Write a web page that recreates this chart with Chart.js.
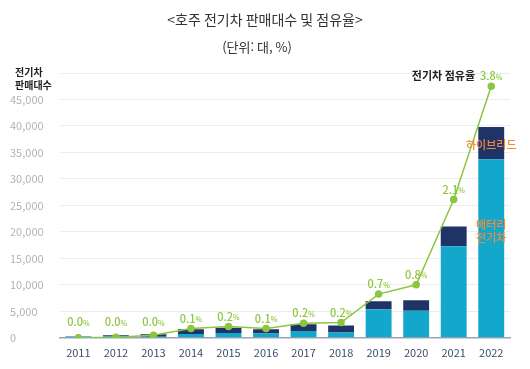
<!DOCTYPE html>
<html lang="ko">
<head>
<meta charset="utf-8">
<script src="https://cdn.jsdelivr.net/npm/chart.js@4.4.1/dist/chart.umd.min.js"></script>
<style>
  html, body { margin: 0; padding: 0; background: #fff; }
  #wrap { width: 530px; height: 369px; position: relative; }
</style>
</head>
<body>
<div id="wrap"><canvas id="chart" width="530" height="369"></canvas></div>
<script>
// --- DATA ---
const years = ['2011', '2012', '2013', '2014', '2015', '2016', '2017', '2018', '2019', '2020', '2021', '2022'];
const bevSales = [250, 250, 200, 700, 900, 800, 1300, 1000, 5400, 5100, 17300, 33700];
const phevSales = [50, 250, 450, 900, 1000, 800, 1250, 1300, 1500, 2000, 3700, 6100];
const evShare = [0.0, 0.01, 0.04, 0.14, 0.17, 0.14, 0.22, 0.23, 0.66, 0.8, 2.09, 3.8];
const yTicks = [0, 5000, 10000, 15000, 20000, 25000, 30000, 35000, 40000, 45000, 50000];

const FONT = "'Noto Sans CJK KR', 'Noto Sans', sans-serif";
const GREEN = '#8cc63f';
const ORANGE = '#f28b3a';

// titles, axis caption and in-chart labels
const labelPlugin = {
    id: 'labels',
    afterDatasetsDraw(chart) {
        const { ctx, scales } = chart;
        const x = scales.x, y = scales.y;
        ctx.save();
        ctx.textBaseline = 'middle';

        // title
        ctx.textAlign = 'center';
        ctx.fillStyle = '#333';
        ctx.font = `14px ${FONT}`;
        ctx.fillText('<호주 전기차 판매대수 및 점유율>', 265, 20);
        ctx.font = `13px ${FONT}`;
        ctx.fillText('(단위: 대, %)', 257, 47);

        // y axis caption
        ctx.textAlign = 'left';
        ctx.fillStyle = '#222';
        ctx.font = `bold 10px ${FONT}`;
        ctx.fillText('전기차', 15, 72);
        ctx.fillText('판매대수', 15, 85);

        // share labels above points
        const meta = chart.getDatasetMeta(2);
        meta.data.forEach((p, i) => {
            const num = evShare[i].toFixed(1);
            const ly = Math.min(p.y - 10, 322);
            ctx.font = `500 11px ${FONT}`;
            const w1 = ctx.measureText(num).width;
            ctx.font = `500 7px ${FONT}`;
            const w2 = ctx.measureText('%').width;
            const sx = p.x - (w1 + w2) / 2;
            ctx.fillStyle = GREEN;
            ctx.textAlign = 'left';
            ctx.font = `500 11px ${FONT}`;
            ctx.fillText(num, sx, ly);
            ctx.font = `500 7px ${FONT}`;
            ctx.fillText('%', sx + w1, ly + 1);
            if (i === years.length - 1) {
                ctx.fillStyle = '#222';
                ctx.textAlign = 'right';
                ctx.font = `bold 11px ${FONT}`;
                ctx.fillText('전기차 점유율', sx - 5, ly);
            }
        });

        // series labels on the 2022 bar
        const last = years.length - 1;
        const cx = x.getPixelForValue(last);
        ctx.textAlign = 'center';
        ctx.fillStyle = ORANGE;
        ctx.font = `500 11px ${FONT}`;
        ctx.fillText('하이브리드', cx, y.getPixelForValue(bevSales[last] + phevSales[last] / 2) + 2);
        const by = y.getPixelForValue(bevSales[last] * 0.6);
        ctx.fillText('배터리', cx, by - 6);
        ctx.fillText('전기차', cx, by + 7);
        ctx.restore();
    }
};

const ctx = document.getElementById('chart').getContext('2d');
new Chart(ctx, {
    data: {
        labels: years,
        datasets: [
            {
                type: 'bar', label: '배터리 전기차', data: bevSales,
                backgroundColor: '#14a7cc', stack: 's', order: 1,
                barPercentage: 0.69, categoryPercentage: 1
            },
            {
                type: 'bar', label: '하이브리드', data: phevSales,
                backgroundColor: '#1f3366', stack: 's', order: 1,
                barPercentage: 0.69, categoryPercentage: 1
            },
            {
                type: 'line', label: '전기차 점유율', data: evShare, yAxisID: 'y1',
                borderColor: GREEN, backgroundColor: GREEN, borderWidth: 1.5,
                pointRadius: 3, pointHoverRadius: 3, tension: 0, order: 0
            }
        ]
    },
    options: {
        responsive: false,
        animation: false,
        devicePixelRatio: 1,
        layout: { padding: { top: 73, left: 10, right: 20, bottom: 10 } },
        plugins: { legend: { display: false }, tooltip: { enabled: false } },
        scales: {
            x: {
                stacked: true,
                grid: { display: false },
                border: { color: '#9aa3b5', width: 1.5 },
                ticks: { color: '#3d4b6a', font: { family: FONT, size: 11 }, padding: 0, maxRotation: 0, autoSkip: false }
            },
            y: {
                stacked: true, min: 0, max: 50000,
                afterBuildTicks: (axis) => { axis.ticks = yTicks.map(v => ({ value: v })); },
                grid: { color: '#ececec', drawTicks: false },
                border: { display: false },
                ticks: {
                    color: '#b3b3b3', crossAlign: 'far', padding: 8,
                    font: { family: FONT, size: 11 },
                    callback: (v) => v === 50000 ? '' : v.toLocaleString('en-US')
                }
            },
            y1: { display: false, min: 0, max: 4 }
        }
    },
    plugins: [labelPlugin]
});
</script>
</body>
</html>
